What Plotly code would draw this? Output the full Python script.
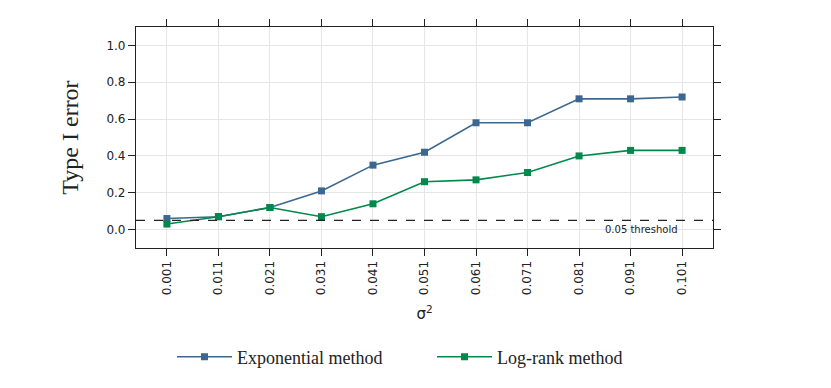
import plotly.graph_objects as go

# sigma^2 values on the x axis
sigma2 = ["0.001", "0.011", "0.021", "0.031", "0.041", "0.051",
          "0.061", "0.071", "0.081", "0.091", "0.101"]

exp_error = [0.06, 0.07, 0.12, 0.21, 0.35, 0.42, 0.58, 0.58, 0.71, 0.71, 0.72]
logrank_error = [0.03, 0.07, 0.12, 0.07, 0.14, 0.26, 0.27, 0.31, 0.40, 0.43, 0.43]

threshold = 0.05
y_ticks = [0.0, 0.2, 0.4, 0.6, 0.8, 1.0]

blue = "#3b6790"
green = "#00894a"

fig = go.Figure()
fig.add_trace(go.Scatter(
    x=sigma2, y=exp_error, mode="lines+markers", name="Exponential method",
    line=dict(color=blue, width=1.6),
    marker=dict(symbol="square", size=7, color=blue)))
fig.add_trace(go.Scatter(
    x=sigma2, y=logrank_error, mode="lines+markers", name="Log-rank method",
    line=dict(color=green, width=1.6),
    marker=dict(symbol="square", size=7, color=green)))

fig.add_hline(y=threshold, line=dict(color="#222222", width=1.1, dash="dash"))
fig.add_annotation(x=1, xref="paper", xanchor="right", y=threshold, yanchor="top",
                   yshift=-2, xshift=-33, text="0.05 threshold", showarrow=False,
                   font=dict(family="DejaVu Sans", size=10, color="#222222"))

# page body adds an 8px offset, margins are set to land the plot at 136..713 x 27..248
fig.update_layout(
    width=831, height=388,
    margin=dict(l=128, r=126, t=19, b=148, autoexpand=False),
    plot_bgcolor="white", paper_bgcolor="white",
    font=dict(family="DejaVu Sans", size=12, color="#222222"),
    legend=dict(orientation="h", x=0.513, xanchor="center", y=-0.41, yanchor="top",
                font=dict(family="Liberation Serif, serif", size=18),
                itemwidth=55, entrywidth=190, entrywidthmode="pixels"),
    showlegend=True,
)
fig.update_xaxes(
    type="category", range=[-0.6, 10.6],
    tickangle=-90, ticks="outside", ticklen=7, tickcolor="#222222",
    showline=True, linecolor="#222222", linewidth=1.2, mirror="ticks",
    showgrid=True, gridcolor="#e6e6e6", gridwidth=1,
    tickfont=dict(size=12),
    title=dict(text="σ<sup>2</sup>", font=dict(size=15), standoff=14),
)
fig.update_yaxes(
    range=[-0.1, 1.1], tickvals=y_ticks, tickformat=".1f",
    ticks="outside", ticklen=7, tickcolor="#222222",
    showline=True, linecolor="#222222", linewidth=1.2, mirror="ticks",
    showgrid=True, gridcolor="#e6e6e6", gridwidth=1, zeroline=False,
    tickfont=dict(size=12),
    title=dict(text="Type I error", font=dict(family="Liberation Serif, serif", size=24),
               standoff=21),
)

fig.write_html("out.html")
